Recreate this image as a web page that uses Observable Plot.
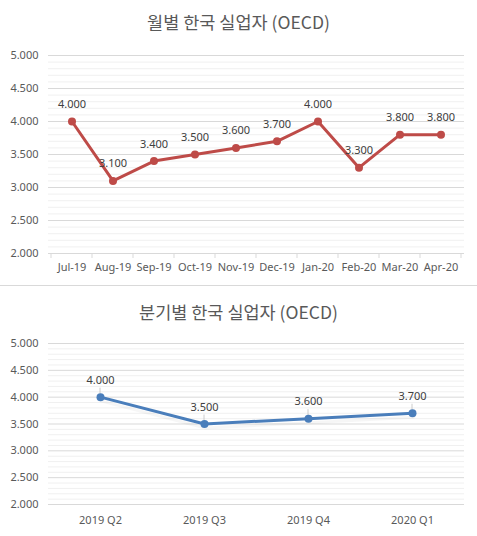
<!DOCTYPE html>
<html><head><meta charset="utf-8">
<script src="https://cdn.jsdelivr.net/npm/d3@7"></script>
<script src="https://cdn.jsdelivr.net/npm/@observablehq/plot@0.6"></script>
<style>
html,body{margin:0;padding:0;background:#fff;width:477px;overflow:hidden;font-family:"Noto Sans CJK KR","Noto Sans",sans-serif;}
.title{text-align:center;color:#595959;font-size:17.5px;font-family:"Noto Sans CJK KR","Noto Sans",sans-serif;}
#t1{height:40px;line-height:44px;}
#t2{height:42px;line-height:52px;}
.sep{height:0;border-top:1px solid #d9d9d9;}
svg{display:block;}
</style></head><body>
<div class="title" id="t1">월별 한국 실업자 (OECD)</div>
<div id="c1"></div>
<div class="sep"></div>
<div class="title" id="t2">분기별 한국 실업자 (OECD)</div>
<div id="c2"></div>
<script>
const months = ["Jul-19","Aug-19","Sep-19","Oct-19","Nov-19","Dec-19","Jan-20","Feb-20","Mar-20","Apr-20"];
const monthlyValues = [4.0,3.1,3.4,3.5,3.6,3.7,4.0,3.3,3.8,3.8];
const quarters = ["2019 Q2","2019 Q3","2019 Q4","2020 Q1"];
const quarterlyValues = [4.0,3.5,3.6,3.7];
const yTicks = [2.0,2.5,3.0,3.5,4.0,4.5,5.0];
const yMinor = d3.range(20,51).map(d => d/10).filter(v => !yTicks.some(t => Math.abs(t - v) < 1e-9));

const fmt = d3.format(".3f");
const font = "'Noto Sans','DejaVu Sans',sans-serif";

function bandTicks(cats, len) {
  return (index, scales, values, dims) => {
    const x = scales.x;
    const bw = x.bandwidth ? x.bandwidth() : 0;
    const yb = dims.height - dims.marginBottom;
    const g = d3.create("svg:g").attr("stroke", "#d9d9d9");
    const pos = cats.map(c => x(c)).concat([x(cats[cats.length-1]) + bw]);
    pos.forEach(p => g.append("line").attr("x1", p).attr("x2", p).attr("y1", yb).attr("y2", yb + len));
    return g.node();
  };
}

function leaders(data) {
  return (index, scales) => {
    const x = scales.x, y = scales.y;
    const bw = x.bandwidth ? x.bandwidth() : 0;
    const g = d3.create("svg:g").attr("stroke", "#bfbfbf").attr("stroke-width", 0.8);
    data.forEach(d => {
      const px = x(d.c) + bw / 2, py = y(d.v);
      g.append("line").attr("x1", px).attr("x2", px).attr("y1", py - 3).attr("y2", py - 9);
    });
    return g.node();
  };
}

function chart(cats, vals, color, height, opts) {
  const data = cats.map((c,i) => ({c, v: vals[i]}));
  const marks = [
    Plot.ruleY(yMinor, {stroke: "#f0f0f0", strokeWidth: 1}),
    Plot.ruleY(yTicks, {stroke: "#d9d9d9", strokeWidth: 1}),
  ];
  if (opts.ticks) marks.push(bandTicks(cats, 5));
  if (opts.shadow) marks.push(Plot.line(data, {x: "c", y: "v", stroke: "#000", strokeOpacity: 0.035, strokeWidth: 3, dy: 4, dx: 1}));
  if (opts.leader) marks.push(leaders(data));
  marks.push(
    Plot.line(data, {x: "c", y: "v", stroke: color, strokeWidth: 3}),
    Plot.dot(data, {x: "c", y: "v", fill: color, r: 4}),
  );
  marks.push(Plot.text(data, {x: "c", y: "v", text: d => fmt(d.v), dy: -17, fill: "#404040", fontSize: 11, fontFamily: font}));
  return Plot.plot({
    width: 477,
    height,
    marginLeft: 48,
    marginRight: 13,
    marginTop: 15,
    marginBottom: 32,
    style: {fontFamily: font, background: "#fff", overflow: "visible"},
    x: {type: "band", domain: cats, padding: 0, tickSize: 0, tickPadding: opts.tickPad, label: null, fontSize: 11},
    y: {domain: [2, 5], ticks: yTicks, tickFormat: fmt, tickSize: 0, tickPadding: 10, label: null},
    marks
  });
}

const p1 = chart(months, monthlyValues, "#BE4B48", 245, {ticks: true, tickPad: 10});
const p2 = chart(quarters, quarterlyValues, "#4A7EBB", 208, {shadow: true, leader: true, tickPad: 12});
[p1, p2].forEach(p => {
  p.querySelectorAll("g[aria-label^='x-axis'], g[aria-label^='y-axis']").forEach(g => { g.setAttribute("font-size", "11"); g.setAttribute("fill", "#595959"); });
});
document.getElementById("c1").appendChild(p1);
document.getElementById("c2").appendChild(p2);
</script>
</body></html>
